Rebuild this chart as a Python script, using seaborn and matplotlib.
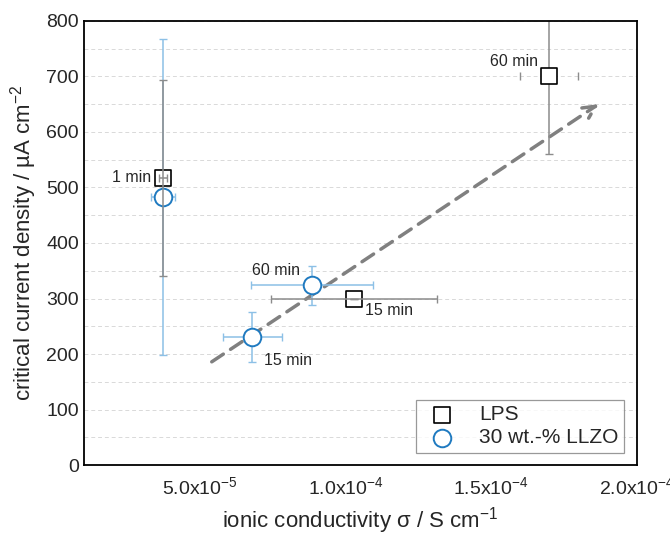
import numpy as np
import pandas as pd
import matplotlib as mpl
mpl.use("Agg")
import matplotlib.pyplot as plt
import seaborn as sns
from matplotlib.ticker import MultipleLocator, FixedLocator

# --- datos ---
lps_labels = ["1 min", "15 min", "60 min"]
lps_x = [3.72e-5, 1.028e-4, 1.70e-4]
lps_y = [517, 300, 700]
lps_xerr = [1.5e-6, 2.86e-5, 1.0e-5]
lps_yerr = [176, 0, 140]

llzo_labels = ["1 min", "15 min", "60 min"]
llzo_x = [3.72e-5, 6.8e-5, 8.84e-5]
llzo_y = [483, 231, 324]
llzo_xerr = [4.0e-6, 1.0e-5, 2.1e-5]
llzo_yerr = [284, 45, 35]

arrow_start = (5.4e-5, 186)
arrow_end = (1.87e-4, 650)

x_ticks = [5e-5, 1e-4, 1.5e-4, 2e-4]
x_ticklabels = [r"5.0x10$^{-5}$", r"1.0x10$^{-4}$", r"1.5x10$^{-4}$", r"2.0x10$^{-4}$"]

sns.set_style("white")
mpl.rcParams.update({
    "font.family": ["Liberation Sans", "DejaVu Sans"],
    "mathtext.fontset": "custom",
    "mathtext.rm": "Liberation Sans",
    "mathtext.it": "Liberation Sans:italic",
    "mathtext.bf": "Liberation Sans:bold",
})

blue = "#1f7ac0"
blue_light = "#8cc0e6"
grey_err = "#8c8c8c"

fig, ax = plt.subplots(figsize=(6.7, 5.34), dpi=100)
fig.subplots_adjust(left=0.125, right=0.95, top=0.961, bottom=0.129)

# barras de error
ax.errorbar(lps_x[:2], lps_y[:2], xerr=lps_xerr[:2], yerr=lps_yerr[:2], fmt="none",
            ecolor=grey_err, elinewidth=1.1, capsize=3, capthick=1.0, zorder=6)
# 60 min LPS: solo las tapas horizontales visibles
ax.errorbar([lps_x[2]], [lps_y[2]], yerr=[lps_yerr[2]], fmt="none",
            ecolor=grey_err, elinewidth=1.1, capsize=3, capthick=1.0, zorder=2)
ax.errorbar([lps_x[2]], [lps_y[2]], xerr=[lps_xerr[2]], fmt="none",
            ecolor=grey_err, elinewidth=0, capsize=3, capthick=1.0, zorder=2)
ax.errorbar(llzo_x, llzo_y, xerr=llzo_xerr, yerr=llzo_yerr, fmt="none",
            ecolor=blue_light, elinewidth=1.1, capsize=3, capthick=1.0, zorder=3)

# marcadores
sns.scatterplot(x=lps_x, y=lps_y, marker="s", s=135, color="white",
                edgecolor="black", linewidth=1.2, label="LPS", ax=ax, zorder=4)
sns.scatterplot(x=llzo_x, y=llzo_y, marker="o", s=160, color="white",
                edgecolor=blue, linewidth=1.4, label="30 wt.-% LLZO", ax=ax, zorder=5)

# flecha de tendencia
ax.annotate("", xy=arrow_end, xytext=arrow_start,
            arrowprops=dict(arrowstyle="->", color="#808080", lw=2.5,
                            linestyle=(0, (4, 2.5)), mutation_scale=22,
                            shrinkA=0, shrinkB=0), zorder=1)

# etiquetas de tiempo
fs = 11.5
ax.text(lps_x[0] - 0.4e-5, lps_y[0], lps_labels[0], ha="right", va="center", fontsize=fs)
ax.text(lps_x[2] - 0.4e-5, lps_y[2] + 27, lps_labels[2], ha="right", va="center", fontsize=fs)
ax.text(lps_x[1] + 0.4e-5, lps_y[1] - 22, lps_labels[1], ha="left", va="center", fontsize=fs)
ax.text(llzo_x[2] - 0.4e-5, llzo_y[2] + 27, llzo_labels[2], ha="right", va="center", fontsize=fs)
ax.text(llzo_x[1] + 0.4e-5, llzo_y[1] - 42, llzo_labels[1], ha="left", va="center", fontsize=fs)

# ejes
ax.set_xlim(1e-5, 2e-4)
ax.set_ylim(0, 800)
ax.xaxis.set_major_locator(FixedLocator(x_ticks))
ax.set_xticklabels(x_ticklabels)
ax.xaxis.set_minor_locator(FixedLocator([2.5e-5, 7.5e-5, 1.25e-4, 1.75e-4]))
ax.yaxis.set_major_locator(MultipleLocator(100))
ax.yaxis.set_minor_locator(MultipleLocator(50))
ax.tick_params(which="both", direction="in", top=False, right=False,
               labelsize=14, width=1.1, color="black")
ax.tick_params(which="major", length=8)
ax.tick_params(which="minor", length=5)
ax.tick_params(axis="x", pad=8)

ax.grid(axis="y", which="both", color="#d9d9d9", linestyle=(0, (4, 3)), linewidth=0.7)
ax.set_axisbelow(True)
for s in ax.spines.values():
    s.set_color("black")
    s.set_linewidth(1.3)

ax.set_xlabel(r"ionic conductivity σ / S cm$^{−1}$", fontsize=16, labelpad=5)
ax.set_ylabel(r"critical current density / µA cm$^{−2}$", fontsize=16, labelpad=5)

leg = ax.legend(loc="lower right", fontsize=15, frameon=True, fancybox=False,
                edgecolor="#808080", borderpad=0.25, handletextpad=0.8,
                labelspacing=0.2, borderaxespad=0.6)
leg.get_frame().set_linewidth(0.9)

fig.savefig("out.png", dpi=100, facecolor="white")
